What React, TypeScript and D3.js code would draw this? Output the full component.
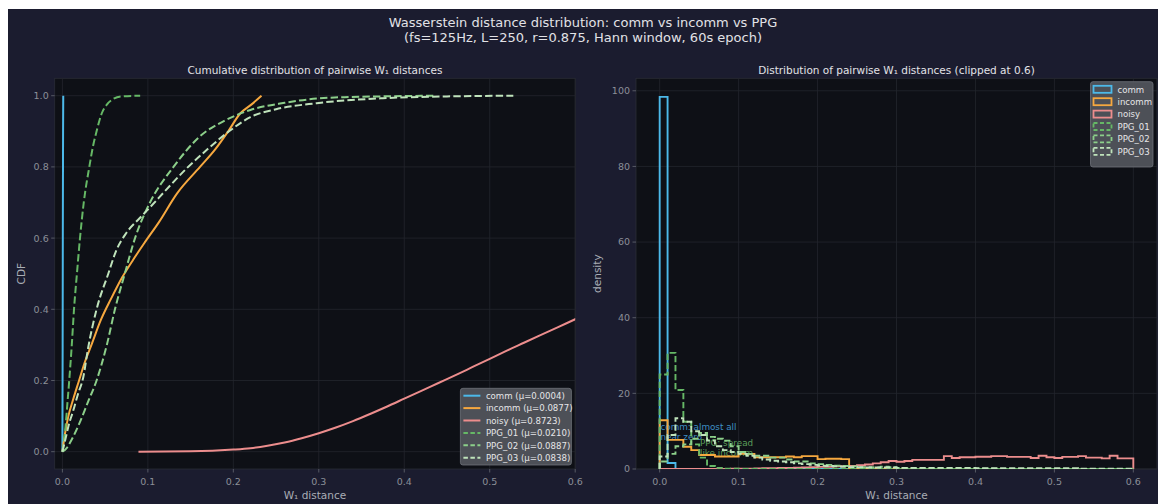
import React from "react";
import * as d3 from "d3";

// ---------------- data ----------------
const seriesNames = ["comm", "incomm", "noisy", "PPG_01", "PPG_02", "PPG_03"];
const seriesMeans = ["0.0004", "0.0877", "0.8723", "0.0210", "0.0887", "0.0838"];
const seriesColors = ["#4cb9e9", "#f6a83f", "#ec8d8d", "#66b866", "#8ccf8a", "#bfe3bb"];
const seriesDashed = [false, false, false, true, true, true];

// empirical CDFs (x = W1 distance, y = CDF)
const cdfComm: [number, number][] = [[0, 0], [0.0003, 0.3], [0.0005, 0.6], [0.0008, 0.9], [0.001, 1.0]];
const cdfIncomm: [number, number][] = [
  [0, 0], [0.003, 0.05], [0.007, 0.1], [0.013, 0.15], [0.0195, 0.2], [0.026, 0.25], [0.034, 0.3],
  [0.045, 0.37], [0.057, 0.43], [0.07, 0.49], [0.083, 0.54], [0.097, 0.59], [0.113, 0.645],
  [0.134, 0.725], [0.161, 0.8], [0.179, 0.85], [0.194, 0.9], [0.208, 0.95], [0.221, 0.975], [0.233, 1.0],
];
const cdfNoisy: [number, number][] = [
  [0.089, 0], [0.15, 0.001], [0.2, 0.006], [0.22, 0.01], [0.24, 0.017], [0.26, 0.026], [0.28, 0.038],
  [0.3, 0.052], [0.32, 0.068], [0.34, 0.086], [0.36, 0.106], [0.38, 0.127], [0.4, 0.149], [0.42, 0.171],
  [0.44, 0.193], [0.46, 0.215], [0.48, 0.238], [0.5, 0.261], [0.52, 0.284], [0.54, 0.306], [0.56, 0.328],
  [0.58, 0.35], [0.6, 0.372], [0.62, 0.394],
];
const cdfPPG01: [number, number][] = [
  [0, 0], [0.002, 0.03], [0.004, 0.08], [0.006, 0.14], [0.008, 0.2], [0.011, 0.3], [0.0136, 0.4],
  [0.017, 0.5], [0.0206, 0.6], [0.025, 0.7], [0.0315, 0.8], [0.036, 0.86], [0.04, 0.9], [0.046, 0.95],
  [0.052, 0.975], [0.059, 0.99], [0.068, 0.998], [0.091, 1.0],
];
const cdfPPG02: [number, number][] = [
  [0, 0], [0.005, 0.01], [0.01, 0.03], [0.02, 0.08], [0.03, 0.14], [0.04, 0.2], [0.052, 0.3],
  [0.0615, 0.4], [0.073, 0.5], [0.085, 0.6], [0.1025, 0.7], [0.13, 0.8], [0.161, 0.886], [0.19, 0.93],
  [0.22, 0.96], [0.26, 0.98], [0.2975, 0.992], [0.33, 0.996], [0.37, 0.998], [0.434, 1.0],
];
const cdfPPG03: [number, number][] = [
  [0, 0], [0.004, 0.04], [0.008, 0.08], [0.012, 0.11], [0.018, 0.16], [0.0245, 0.21], [0.03, 0.29],
  [0.04, 0.4], [0.0537, 0.5], [0.063, 0.565], [0.075, 0.615], [0.09, 0.655], [0.1, 0.68], [0.125, 0.745],
  [0.145, 0.795], [0.17, 0.85], [0.195, 0.9], [0.22, 0.94], [0.25, 0.962], [0.2975, 0.979], [0.375, 0.993],
  [0.45, 0.998], [0.5276, 1.0],
];

// histogram densities, 60 bins of width 0.01 on [0, 0.6]
const histComm = [98.4, 1.6, ...Array(58).fill(0)];
const histIncomm = [
  12.9, 7.7, 7.7, 5.9, 5.0, 3.7, 3.7, 3.3, 3.3, 3.3,
  4.0, 4.0, 3.1, 3.1, 3.1, 3.1, 3.3, 3.1, 3.4, 3.4,
  2.6, 2.7, 2.7, 2.6, 0, 0, 0, 0, 0, 0,
  0, 0, 0, 0, 0, 0, 0, 0, 0, 0, 0, 0, 0, 0, 0, 0, 0, 0, 0, 0, 0, 0, 0, 0, 0, 0, 0, 0, 0, 0,
];
const histNoisy = [
  0, 0, 0, 0, 0, 0, 0, 0, 0, 0.1,
  0.1, 0.1, 0.15, 0.2, 0.2, 0.25, 0.3, 0.35, 0.4, 0.5,
  0.55, 0.6, 0.7, 0.75, 0.8, 1.0, 1.2, 1.5, 1.8, 2.1,
  1.9, 2.1, 2.4, 2.4, 2.4, 2.4, 3.4, 2.9, 3.1, 3.1,
  3.25, 3.25, 3.4, 3.4, 3.2, 3.2, 3.2, 2.9, 3.5, 3.1,
  2.9, 3.2, 3.2, 3.4, 3.0, 3.0, 2.8, 3.5, 2.8, 2.8,
];
const histPPG01 = [
  25, 30.7, 20.9, 12.5, 6.5, 3.0, 0.8, 0.3, 0.1, 0.1,
  ...Array(50).fill(0),
];
const histPPG02 = [
  2, 4, 6, 6.5, 8, 9.5, 8.5, 8, 7.5, 6,
  4.5, 4, 3.5, 3.5, 3, 3, 2.5, 2, 2, 1.5,
  1.3, 1.1, 0.9, 0.8, 0.7, 0.5, 0.5, 0.4, 0.6, 0.5,
  0.3, 0.2, 0.15, 0.15, 0.1, 0.1, 0.1, 0.1, 0.1, 0.1,
  0.1, 0.1, 0.1, 0, 0, 0, 0, 0, 0, 0, 0, 0, 0, 0, 0, 0, 0, 0, 0, 0,
];
const histPPG03 = [
  3.3, 9, 13.4, 12.5, 10, 9, 7.5, 6, 5, 4.5,
  4, 3.5, 3, 2.5, 2.2, 2, 1.8, 1.5, 1.3, 1.1,
  0.9, 0.8, 0.7, 0.6, 0.5, 0.45, 0.4, 0.4, 0.4, 0.4,
  0.3, 0.3, 0.3, 0.3, 0.3, 0.3, 0.3, 0.3, 0.3, 0.3,
  0.2, 0.2, 0.2, 0.2, 0.2, 0.2, 0.2, 0.2, 0.2, 0.2, 0.2, 0.2, 0.2,
  0.1, 0.1, 0.1, 0.1, 0.1, 0.1, 0.1,
];
const binEdges = d3.range(61).map((i) => i * 0.01);

const xTicks = [0, 0.1, 0.2, 0.3, 0.4, 0.5, 0.6];
const cdfTicks = [0, 0.2, 0.4, 0.6, 0.8, 1.0];
const densTicks = [0, 20, 40, 60, 80, 100];

const suptitle1 = "Wasserstein distance distribution: comm vs incomm vs PPG";
const suptitle2 = "(fs=125Hz, L=250, r=0.875, Hann window, 60s epoch)";
const leftTitle = "Cumulative distribution of pairwise W\u2081 distances";
const rightTitle = "Distribution of pairwise W\u2081 distances (clipped at 0.6)";
const xLabel = "W\u2081 distance";

// ---------------- style ----------------
const FIG_BG = "#1b1c2f";
const AX_BG = "#0e1016";
const GRID = "#23262d";
const TICK_TXT = "#8b8f98";
const LABEL_TXT = "#a9adb5";
const TITLE_TXT = "#e2e2e6";
const FONT = "DejaVu Sans, sans-serif";

const L = { x0: 54.7, x1: 575.2, y0: 78.3, y1: 469 };
const R = { x0: 636, x1: 1157, y0: 78.3, y1: 469 };

export default function App() {
  const xL = d3.scaleLinear().domain([-0.009, 0.6]).range([L.x0, L.x1]);
  const yL = d3.scaleLinear().domain([-0.0486, 1.0489]).range([L.y1, L.y0]);
  const xR = d3.scaleLinear().domain([-0.03, 0.63]).range([R.x0, R.x1]);
  const yR = d3.scaleLinear().domain([0, 103.3]).range([R.y1, R.y0]);

  const cdfs = [cdfComm, cdfIncomm, cdfNoisy, cdfPPG01, cdfPPG02, cdfPPG03];
  const hists = [histComm, histIncomm, histNoisy, histPPG01, histPPG02, histPPG03];

  const lineGen = (i: number) =>
    d3
      .line<[number, number]>()
      .x((d) => xL(d[0]))
      .y((d) => yL(d[1]))
      .curve(i === 0 ? d3.curveLinear : d3.curveMonotoneX);

  const stepPath = (h: number[]) => {
    const pts: [number, number][] = [[binEdges[0], 0]];
    h.forEach((v, k) => {
      pts.push([binEdges[k], v]);
      pts.push([binEdges[k + 1], v]);
    });
    pts.push([binEdges[binEdges.length - 1], 0]);
    return d3
      .line<[number, number]>()
      .x((d) => xR(d[0]))
      .y((d) => yR(d[1]))(pts) as string;
  };

  const dashLine = "7.4,3.2";
  const dashHist = "6.2,2.8";

  // legend geometry
  const legL = { x: 460.4, y: 388.3, w: 111, h: 76.7, row0: 395.7, dy: 12.4 };
  const legR = { x: 1090.5, y: 81.7, w: 62.5, h: 85.3, row0: 89.3, dy: 12.4 };

  return (
    <div style={{ position: "fixed", left: 0, top: 0, width: 1158, height: 504, overflow: "hidden", background: "#fff" }}>
      <svg width={1158} height={504} style={{ display: "block" }} fontFamily={FONT}>
        <defs>
          <clipPath id="clipL">
            <rect x={L.x0} y={L.y0} width={L.x1 - L.x0} height={L.y1 - L.y0} />
          </clipPath>
          <clipPath id="clipR">
            <rect x={R.x0} y={R.y0} width={R.x1 - R.x0} height={R.y1 - R.y0} />
          </clipPath>
        </defs>
        <rect x={8} y={9} width={1150} height={495} fill={FIG_BG} />

        {/* suptitle */}
        <text x={583} y={27} textAnchor="middle" fontSize={13} fill={TITLE_TXT}>{suptitle1}</text>
        <text x={583} y={42} textAnchor="middle" fontSize={13} fill={TITLE_TXT}>{suptitle2}</text>

        {/* ---------- LEFT AXES ---------- */}
        <rect x={L.x0} y={L.y0} width={L.x1 - L.x0} height={L.y1 - L.y0} fill={AX_BG} stroke="#2a2d36" strokeWidth={0.8} />
        {xTicks.map((t) => (
          <line key={"lgx" + t} x1={xL(t)} x2={xL(t)} y1={L.y0} y2={L.y1} stroke={GRID} strokeWidth={0.8} />
        ))}
        {cdfTicks.map((t) => (
          <line key={"lgy" + t} x1={L.x0} x2={L.x1} y1={yL(t)} y2={yL(t)} stroke={GRID} strokeWidth={0.8} />
        ))}
        <g clipPath="url(#clipL)">
          {cdfs.map((c, i) => (
            <path
              key={"cdf" + i}
              d={lineGen(i)(c) as string}
              fill="none"
              stroke={seriesColors[i]}
              strokeWidth={2}
              strokeDasharray={seriesDashed[i] ? dashLine : undefined}
            />
          ))}
        </g>
        {xTicks.map((t) => (
          <g key={"ltx" + t}>
            <line x1={xL(t)} x2={xL(t)} y1={L.y1} y2={L.y1 + 3.5} stroke="#666a72" strokeWidth={0.8} />
            <text x={xL(t)} y={L.y1 + 15.5} textAnchor="middle" fontSize={9.5} fill={TICK_TXT}>{d3.format(".1f")(t)}</text>
          </g>
        ))}
        {cdfTicks.map((t) => (
          <g key={"lty" + t}>
            <line x1={L.x0 - 3.5} x2={L.x0} y1={yL(t)} y2={yL(t)} stroke="#666a72" strokeWidth={0.8} />
            <text x={L.x0 - 6} y={yL(t) + 3.4} textAnchor="end" fontSize={9.5} fill={TICK_TXT}>{d3.format(".1f")(t)}</text>
          </g>
        ))}
        <text x={(L.x0 + L.x1) / 2} y={74} textAnchor="middle" fontSize={10.5} fill={TITLE_TXT}>{leftTitle}</text>
        <text x={(L.x0 + L.x1) / 2} y={499} textAnchor="middle" fontSize={10.5} fill={LABEL_TXT}>{xLabel}</text>
        <text transform={`translate(25,${(L.y0 + L.y1) / 2}) rotate(-90)`} textAnchor="middle" fontSize={10.5} fill={LABEL_TXT}>CDF</text>

        {/* left legend */}
        <rect x={legL.x} y={legL.y} width={legL.w} height={legL.h} rx={2.5} fill="#53565d" fillOpacity={0.92} stroke="#6f727a" strokeWidth={0.8} />
        {seriesNames.map((n, i) => {
          const y = legL.row0 + i * legL.dy;
          return (
            <g key={"ll" + n}>
              <line x1={legL.x + 3} x2={legL.x + 20} y1={y} y2={y} stroke={seriesColors[i]} strokeWidth={2}
                strokeDasharray={seriesDashed[i] ? "4.5,2.5" : undefined} />
              <text x={legL.x + 25.5} y={y + 3.2} fontSize={8.6} fill="#e6e6e8">{`${n} (\u03bc=${seriesMeans[i]})`}</text>
            </g>
          );
        })}

        {/* ---------- RIGHT AXES ---------- */}
        <rect x={R.x0} y={R.y0} width={R.x1 - R.x0} height={R.y1 - R.y0} fill={AX_BG} stroke="#2a2d36" strokeWidth={0.8} />
        {xTicks.map((t) => (
          <line key={"rgx" + t} x1={xR(t)} x2={xR(t)} y1={R.y0} y2={R.y1} stroke={GRID} strokeWidth={0.8} />
        ))}
        {densTicks.map((t) => (
          <line key={"rgy" + t} x1={R.x0} x2={R.x1} y1={yR(t)} y2={yR(t)} stroke={GRID} strokeWidth={0.8} />
        ))}
        <g clipPath="url(#clipR)">
          <text x={xR(0.001)} y={yR(12.3) + 8} fontSize={8.8} fill="#3f8fc4">
            <tspan x={xR(0.001)}>comm: almost all</tspan>
            <tspan x={xR(0.001)} dy={10}>near zero</tspan>
          </text>
          <text x={xR(0.051)} y={yR(8.3) + 8} fontSize={8.8} fill="#5a9e5a">
            <tspan x={xR(0.051)}>PPG: spread</tspan>
            <tspan x={xR(0.051)} dy={10}>like incomm</tspan>
          </text>
          {hists.map((h, i) => (
            <path
              key={"hist" + i}
              d={stepPath(h)}
              fill="none"
              stroke={seriesColors[i]}
              strokeWidth={1.9}
              strokeDasharray={seriesDashed[i] ? dashHist : undefined}
            />
          ))}
        </g>
        {xTicks.map((t) => (
          <g key={"rtx" + t}>
            <line x1={xR(t)} x2={xR(t)} y1={R.y1} y2={R.y1 + 3.5} stroke="#666a72" strokeWidth={0.8} />
            <text x={xR(t)} y={R.y1 + 15.5} textAnchor="middle" fontSize={9.5} fill={TICK_TXT}>{d3.format(".1f")(t)}</text>
          </g>
        ))}
        {densTicks.map((t) => (
          <g key={"rty" + t}>
            <line x1={R.x0 - 3.5} x2={R.x0} y1={yR(t)} y2={yR(t)} stroke="#666a72" strokeWidth={0.8} />
            <text x={R.x0 - 6} y={yR(t) + 3.4} textAnchor="end" fontSize={9.5} fill={TICK_TXT}>{t}</text>
          </g>
        ))}
        <text x={(R.x0 + R.x1) / 2} y={74} textAnchor="middle" fontSize={10.5} fill={TITLE_TXT}>{rightTitle}</text>
        <text x={(R.x0 + R.x1) / 2} y={499} textAnchor="middle" fontSize={10.5} fill={LABEL_TXT}>{xLabel}</text>
        <text transform={`translate(601,${(R.y0 + R.y1) / 2}) rotate(-90)`} textAnchor="middle" fontSize={10.5} fill={LABEL_TXT}>density</text>

        {/* right legend */}
        <rect x={legR.x} y={legR.y} width={legR.w} height={legR.h} rx={2.5} fill="#53565d" fillOpacity={0.92} stroke="#6f727a" strokeWidth={0.8} />
        {seriesNames.map((n, i) => {
          const y = legR.row0 + i * legR.dy;
          return (
            <g key={"rl" + n}>
              <rect x={legR.x + 3} y={y - 3.5} width={18} height={7} fill="none" stroke={seriesColors[i]} strokeWidth={1.8}
                strokeDasharray={seriesDashed[i] ? "4,2.5" : undefined} />
              <text x={legR.x + 27} y={y + 3.2} fontSize={8.6} fill="#e6e6e8">{n}</text>
            </g>
          );
        })}
      </svg>
    </div>
  );
}
